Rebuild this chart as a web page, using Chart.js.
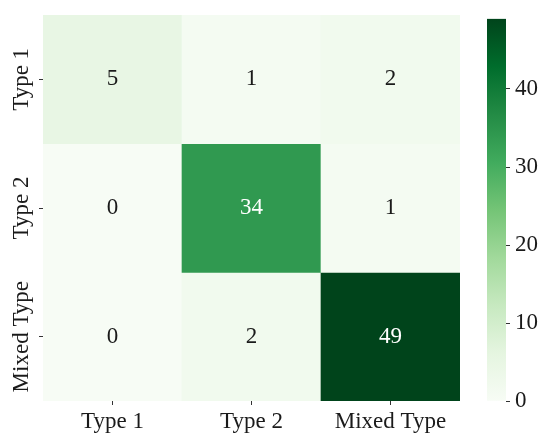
<!DOCTYPE html>
<html>
<head>
<meta charset="utf-8">
<script src="https://cdn.jsdelivr.net/npm/chart.js@4.4.1/dist/chart.umd.min.js"></script>
<style>
  html, body { margin: 0; padding: 0; background: #fff; }
  #wrap { position: relative; width: 550px; height: 446px; }
  #main { position: absolute; left: 0; top: 0; }
  #cbar { position: absolute; left: 480px; top: 0; }
</style>
</head>
<body>
<div id="wrap">
  <canvas id="main" width="550" height="446"></canvas>
  <canvas id="cbar" width="70" height="446"></canvas>
</div>
<script>
// ---- data ----
const colLabels = ['Type 1', 'Type 2', 'Mixed Type'];
const rowLabels = ['Type 1', 'Type 2', 'Mixed Type'];
const rowType1 = [5, 1, 2];
const rowType2 = [0, 34, 1];
const rowMixed = [0, 2, 49];
const colorbarTicks = [0, 10, 20, 30, 40];
const colorMin = 0;
const colorMax = 49;

const matrix = [rowType1, rowType2, rowMixed];

// ---- Greens colormap ----
const greens = ['#f7fcf5', '#e5f5e0', '#c7e9c0', '#a1d99b', '#74c476', '#41ab5d', '#238b45', '#006d2c', '#00441b'];
function hex2rgb(h) { return [parseInt(h.substr(1, 2), 16), parseInt(h.substr(3, 2), 16), parseInt(h.substr(5, 2), 16)]; }
const greensRGB = greens.map(hex2rgb);
function cmap(v) {
  let t = (v - colorMin) / (colorMax - colorMin);
  t = Math.max(0, Math.min(1, t));
  const p = t * (greensRGB.length - 1);
  const i = Math.min(Math.floor(p), greensRGB.length - 2);
  const f = p - i;
  const a = greensRGB[i], b = greensRGB[i + 1];
  return a.map((c, k) => Math.round(c + (b[k] - c) * f));
}
function rgbStr(c) { return 'rgb(' + c.join(',') + ')'; }
function lum(c) {
  const l = c.map(x => { x /= 255; return x <= 0.03928 ? x / 12.92 : Math.pow((x + 0.055) / 1.055, 2.4); });
  return 0.2126 * l[0] + 0.7152 * l[1] + 0.0722 * l[2];
}

const FONT = { family: '"Liberation Serif", "Times New Roman", serif', size: 23 };
const TEXT = '#1a1a1a';

const datasets = matrix.map((row, i) => ({
  label: rowLabels[i],
  data: row.map((v, j) => ({ x: colLabels[j], y: [i, i + 1] })),
  backgroundColor: row.map(v => rgbStr(cmap(v))),
  borderWidth: 0,
  barPercentage: 1,
  categoryPercentage: 1,
  grouped: false
}));

const annotate = {
  id: 'annotate',
  afterDatasetsDraw(chart) {
    const { ctx, scales } = chart;
    ctx.save();
    ctx.font = FONT.size + 'px ' + FONT.family;
    ctx.textAlign = 'center';
    ctx.textBaseline = 'middle';
    matrix.forEach((row, i) => {
      row.forEach((v, j) => {
        const x = scales.x.getPixelForValue(j);
        const y = scales.y.getPixelForValue(i + 0.5);
        ctx.fillStyle = lum(cmap(v)) > 0.408 ? TEXT : '#ffffff';
        ctx.fillText(String(v), x, y);
      });
    });
    // y-axis row labels, rotated 90° (read bottom to top)
    ctx.fillStyle = TEXT;
    ctx.textBaseline = 'alphabetic';
    rowLabels.forEach((lab, i) => {
      const y = scales.y.getPixelForValue(i + 0.5);
      ctx.save();
      ctx.translate(27.5, y);
      ctx.rotate(-Math.PI / 2);
      ctx.fillText(lab, 0, 0);
      ctx.restore();
    });
    ctx.restore();
  }
};

new Chart(document.getElementById('main'), {
  type: 'bar',
  data: { labels: colLabels, datasets },
  plugins: [annotate],
  options: {
    responsive: false,
    animation: false,
    layout: { padding: { top: 15, right: 90, left: 0, bottom: 0 } },
    plugins: { legend: { display: false }, tooltip: { enabled: false } },
    scales: {
      x: {
        type: 'category',
        labels: colLabels,
        grid: { display: true, drawOnChartArea: false, offset: false, tickLength: 4, color: '#333', lineWidth: 1 },
        border: { display: false },
        ticks: { font: FONT, color: TEXT, padding: 3, maxRotation: 0, minRotation: 0 },
        afterFit(s) { s.height = 45; }
      },
      y: {
        type: 'linear',
        min: 0,
        max: rowLabels.length,
        reverse: true,
        afterBuildTicks(s) { s.ticks = rowLabels.map((_, i) => ({ value: i + 0.5 })); },
        grid: { display: true, drawOnChartArea: false, tickLength: 4, color: '#333', lineWidth: 1 },
        border: { display: false },
        ticks: { display: false },
        afterFit(s) { s.width = 43; }
      }
    }
  }
});

// ---- colorbar ----
function gradientFill(context) {
  const chart = context.chart;
  const area = chart.chartArea;
  if (!area) return greens[0];
  const g = chart.ctx.createLinearGradient(0, area.bottom, 0, area.top);
  greens.forEach((c, i) => g.addColorStop(i / (greens.length - 1), c));
  return g;
}

new Chart(document.getElementById('cbar'), {
  type: 'bar',
  data: {
    labels: ['cb'],
    datasets: [{
      data: [[colorMin, colorMax]],
      backgroundColor: gradientFill,
      borderWidth: 0,
      barPercentage: 1,
      categoryPercentage: 1
    }]
  },
  options: {
    responsive: false,
    animation: false,
    layout: { padding: { top: 15, left: 7, right: 0, bottom: 45 } },
    plugins: { legend: { display: false }, tooltip: { enabled: false } },
    scales: {
      x: { display: false },
      y: {
        position: 'right',
        min: colorMin,
        max: colorMax,
        afterBuildTicks(s) { s.ticks = colorbarTicks.map(v => ({ value: v })); },
        grid: { display: true, drawOnChartArea: false, tickLength: 4, color: '#333', lineWidth: 1 },
        border: { display: false },
        ticks: { font: FONT, color: TEXT, padding: 5 },
        afterFit(s) { s.width = 44; }
      }
    }
  }
});
</script>
</body>
</html>
